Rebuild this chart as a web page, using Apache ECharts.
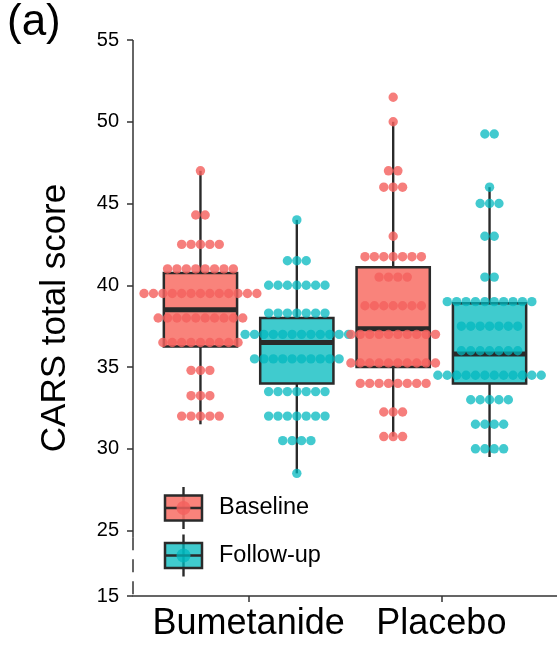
<!DOCTYPE html>
<html><head><meta charset="utf-8">
<script src="https://cdn.jsdelivr.net/npm/echarts@6/dist/echarts.min.js"></script>
<style>html,body{margin:0;padding:0;background:#fff}#c{width:557px;height:650px}</style>
</head><body><div id="c"></div>
<script>
// ---------- data ----------
const categories = ['Bumetanide', 'Placebo'];
const groups = ['Baseline', 'Follow-up'];
const yTickValues = [15, 25, 30, 35, 40, 45, 50, 55];
// broken axis: the "15" tick is drawn where 21 would be
const breakLabel = 15, breakPos = 21, breakTop = 24.6;

// dot rows (bin value) and number of dots in each row
const bumBaseVals    = [47.0, 44.3, 42.5, 41.0, 39.5, 38.0, 36.5, 34.8, 33.25, 32.0];
const bumBaseCounts  = [1, 2, 5, 8, 13, 10, 9, 3, 3, 5];
const bumFollowVals   = [44.0, 41.5, 40.0, 38.3, 37.0, 35.5, 33.5, 32.0, 30.5, 28.5];
const bumFollowCounts = [1, 3, 7, 7, 12, 10, 7, 7, 4, 1];
const placBaseVals    = [51.5, 50.0, 47.0, 46.0, 43.0, 41.75, 40.5, 38.75, 37.0, 35.25, 34.0, 32.25, 30.75];
const placBaseCounts  = [1, 1, 2, 3, 1, 7, 4, 7, 10, 10, 8, 3, 3];
const placFollowVals   = [49.25, 46.0, 45.0, 43.0, 40.5, 39.0, 37.5, 36.0, 34.5, 33.0, 31.5, 30.0];
const placFollowCounts = [2, 1, 3, 2, 2, 10, 7, 7, 12, 5, 4, 4];

// box stats: [min, q1, median, q3, max]
const bumBaseBox    = [31.5, 36.25, 38.5, 40.75, 47.0];
const bumFollowBox  = [28.5, 34.0, 36.5, 38.0, 44.0];
const placBaseBox   = [30.75, 35.0, 37.35, 41.1, 50.0];
const placFollowBox = [29.5, 34.0, 35.8, 38.9, 46.0];

// ---------- styles ----------
const FONT = "'Liberation Sans', Arial, Helvetica, sans-serif";
const boxFill = ['rgba(248,118,109,0.9)', 'rgba(0,186,190,0.75)'];
const dotFill = ['rgba(244,98,95,0.82)', 'rgba(0,184,190,0.74)'];
const INK = '#2a2a2a';
const DODGE = 0.25, BOXW = 0.38, DOT_D = 9.4;

// ---------- build ----------
const dotSets = [
  [0, 0, bumBaseVals, bumBaseCounts], [0, 1, bumFollowVals, bumFollowCounts],
  [1, 0, placBaseVals, placBaseCounts], [1, 1, placFollowVals, placFollowCounts]
];
const boxSets = [[0, 0, bumBaseBox], [0, 1, bumFollowBox], [1, 0, placBaseBox], [1, 1, placFollowBox]];
const xOf = (ci, g) => ci + 1 + (g === 0 ? -DODGE : DODGE);

const boxData = boxSets.map(([ci, g, s]) => [xOf(ci, g), s[0], s[1], s[2], s[3], s[4], g]);
const dotData = [];
dotSets.forEach(([ci, g, vals, counts]) => {
  vals.forEach((v, i) => dotData.push([xOf(ci, g), v, counts[i], g]));
});

function renderBox(params, api) {
  const x = api.value(0), g = api.value(6);
  const pMin = api.coord([x, api.value(1)]), pQ1 = api.coord([x, api.value(2)]);
  const pMd = api.coord([x, api.value(3)]), pQ3 = api.coord([x, api.value(4)]);
  const pMx = api.coord([x, api.value(5)]);
  const w = api.size([BOXW, 0])[0];
  const cx = pMin[0];
  return {
    type: 'group', children: [
      { type: 'line', shape: { x1: cx, y1: pMx[1], x2: cx, y2: pQ3[1] }, style: { stroke: INK, lineWidth: 2.4 } },
      { type: 'line', shape: { x1: cx, y1: pQ1[1], x2: cx, y2: pMin[1] }, style: { stroke: INK, lineWidth: 2.4 } },
      { type: 'rect', shape: { x: cx - w / 2, y: pQ3[1], width: w, height: pQ1[1] - pQ3[1] },
        style: { fill: boxFill[g], stroke: INK, lineWidth: 2.5 } },
      { type: 'line', shape: { x1: cx - w / 2, y1: pMd[1], x2: cx + w / 2, y2: pMd[1] }, style: { stroke: INK, lineWidth: 5 } }
    ]
  };
}

function renderDots(params, api) {
  const x = api.value(0), v = api.value(1), n = api.value(2), g = api.value(3);
  const p = api.coord([x, v]);
  const children = [];
  for (let i = 0; i < n; i++) {
    children.push({ type: 'circle', shape: { cx: p[0] + (i - (n - 1) / 2) * DOT_D, cy: p[1], r: DOT_D / 2 },
      style: { fill: dotFill[g] } });
  }
  return { type: 'group', children };
}

const yPos = v => (v === breakLabel ? breakPos : v);
const yTickPos = yTickValues.map(yPos);

const chart = echarts.init(document.getElementById('c'));
chart.setOption({
  animation: false,
  grid: { left: 133, right: 0, top: 40, bottom: 54, containLabel: false, outerBoundsMode: 'none' },
  xAxis: {
    type: 'value', min: 0.4, max: 2.6,
    splitLine: { show: false },
    axisLine: { show: true, onZero: false, lineStyle: { color: '#333', width: 1.5 } },
    axisTick: { show: true, customValues: [1, 2], length: 6, lineStyle: { color: '#333', width: 1.5 } },
    axisLabel: { customValues: [1, 2], formatter: v => categories[Math.round(v) - 1], margin: 10,
      fontSize: 36, color: '#000', fontFamily: FONT }
  },
  yAxis: {
    type: 'value', min: breakPos, max: 55,
    splitLine: { show: false },
    axisLine: { show: false },
    axisTick: { show: true, customValues: yTickPos, length: 6, lineStyle: { color: '#333', width: 1.5 } },
    axisLabel: { customValues: yTickPos, formatter: v => String(v === breakPos ? breakLabel : v),
      margin: 14, fontSize: 20, color: '#000', fontFamily: FONT },
    name: 'CARS total score', nameLocation: 'middle', nameGap: 60,
    nameTextStyle: { fontSize: 35, color: '#000', fontFamily: FONT }
  },
  series: [
    { type: 'custom', renderItem: renderBox, data: boxData, encode: { x: 0, y: 1 }, clip: false, z: 2 },
    { type: 'custom', renderItem: renderDots, data: dotData, encode: { x: 0, y: 1 }, clip: false, z: 3 }
  ]
});

// broken y-axis line + legend + panel tag
const pTop = chart.convertToPixel({ gridIndex: 0 }, [0.4, 55]);
const pBrk = chart.convertToPixel({ gridIndex: 0 }, [0.4, breakTop]);
const pBot = chart.convertToPixel({ gridIndex: 0 }, [0.4, breakPos]);
const ax = pTop[0];

function legendKey(cy, g, label) {
  const x0 = 165, w = 37, h = 25, cx = x0 + w / 2;
  return [
    { type: 'line', shape: { x1: cx, y1: cy - 21, x2: cx, y2: cy + 21 }, style: { stroke: INK, lineWidth: 2.4 } },
    { type: 'rect', shape: { x: x0, y: cy - h / 2, width: w, height: h }, style: { fill: boxFill[g], stroke: INK, lineWidth: 2.5 } },
    { type: 'line', shape: { x1: x0, y1: cy, x2: x0 + w, y2: cy }, style: { stroke: INK, lineWidth: 2.5 } },
    { type: 'circle', shape: { cx: cx, cy: cy, r: 7 }, style: { fill: dotFill[g] } },
    { type: 'text', x: 219, y: cy, style: { text: label, fontSize: 23.5, fontFamily: FONT, fill: '#000', verticalAlign: 'middle' } }
  ];
}

chart.setOption({
  graphic: [
    { type: 'line', shape: { x1: ax, y1: pTop[1], x2: ax, y2: pBrk[1] }, style: { stroke: '#333', lineWidth: 1.5 } },
    { type: 'line', shape: { x1: ax, y1: pBrk[1], x2: ax, y2: pBot[1] }, style: { stroke: '#333', lineWidth: 1.5, lineDash: [13, 9] } },
    ...legendKey(508, 0, groups[0]),
    ...legendKey(555.5, 1, groups[1]),
    { type: 'text', x: 7, y: 1, style: { text: '(a)', fontSize: 44, fontFamily: FONT, fill: '#000' } }
  ]
});
</script>
</body></html>
